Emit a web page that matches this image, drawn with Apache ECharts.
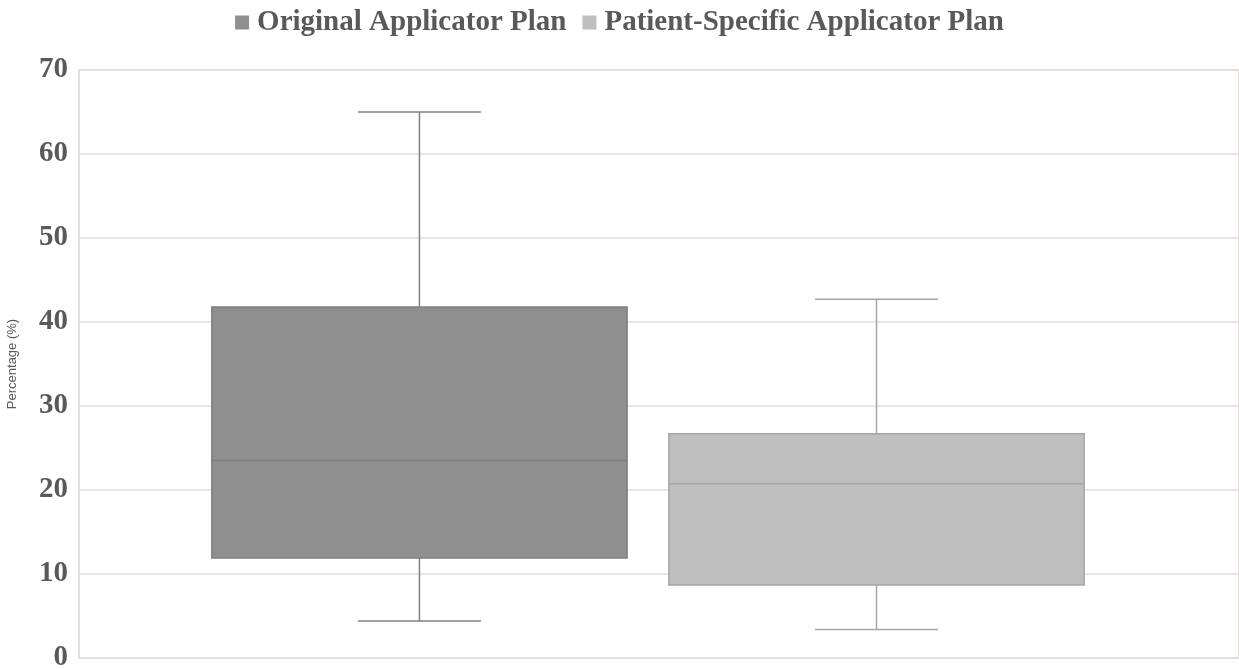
<!DOCTYPE html>
<html>
<head>
<meta charset="utf-8">
<script src="https://cdn.jsdelivr.net/npm/echarts@6/dist/echarts.min.js"></script>
<style>html,body{margin:0;padding:0;background:#fff}#c{width:1239px;height:669px}</style>
</head>
<body>
<div id="c"></div>
<script>
const categories = [''];
const seriesNames = ['Original Applicator Plan', 'Patient-Specific Applicator Plan'];
// [min, Q1, median, Q3, max]
const originalStats = [4.4, 11.9, 23.5, 41.8, 65.0];
const patientStats = [3.4, 8.7, 20.75, 26.7, 42.7];
const yTicks = [0, 10, 20, 30, 40, 50, 60, 70];

const fills = ['#8f8f8f', '#bfbfbf'];
const borders = ['#7f7f7f', '#a5a5a5'];
const offsets = [-0.2065, 0.1875];   // box center offset as fraction of band
const halfW = 0.179;                  // half box width as fraction of band
const capHalf = 0.053;                // half whisker cap width

function makeRender(idx) {
  return function (params, api) {
    const band = api.size([1, 0])[0];
    const base = api.coord([api.value(0), 0]);
    const cx = base[0] + offsets[idx] * band;
    const hw = halfW * band, ch = capHalf * band;
    const y = k => api.coord([api.value(0), api.value(k)])[1];
    const yMin = y(1), yQ1 = y(2), yMed = y(3), yQ3 = y(4), yMax = y(5);
    const lineStyle = { stroke: borders[idx], lineWidth: 1.5 };
    return {
      type: 'group',
      children: [
        { type: 'line', shape: { x1: cx, y1: yMax, x2: cx, y2: yQ3 }, style: lineStyle },
        { type: 'line', shape: { x1: cx, y1: yQ1, x2: cx, y2: yMin }, style: lineStyle },
        { type: 'line', shape: { x1: cx - ch, y1: yMax, x2: cx + ch, y2: yMax }, style: lineStyle },
        { type: 'line', shape: { x1: cx - ch, y1: yMin, x2: cx + ch, y2: yMin }, style: lineStyle },
        { type: 'rect', shape: { x: cx - hw, y: yQ3, width: 2 * hw, height: yQ1 - yQ3 },
          style: { fill: fills[idx], stroke: borders[idx], lineWidth: 1.5 } },
        { type: 'line', shape: { x1: cx - hw, y1: yMed, x2: cx + hw, y2: yMed }, style: lineStyle }
      ]
    };
  };
}

const chart = echarts.init(document.getElementById('c'), null, { renderer: 'canvas' });
chart.setOption({
  animation: false,
  backgroundColor: '#fff',
  legend: {
    top: 3,
    left: 'center',
    icon: 'rect',
    itemWidth: 14,
    itemHeight: 14,
    itemGap: 16,
    textStyle: { fontFamily: 'Liberation Serif', fontWeight: 'bold', fontSize: 29, color: '#595959', padding: [0, 0, 0, 3] },
    data: seriesNames
  },
  grid: { left: 79, right: 0, top: 70, bottom: 11, show: true, borderColor: '#e8dccf', borderWidth: 1.5,
          outerBoundsMode: 'none', containLabel: false },
  xAxis: {
    type: 'category',
    data: categories,
    axisLine: { show: false },
    axisTick: { show: false },
    axisLabel: { show: false },
    splitLine: { show: false }
  },
  yAxis: {
    type: 'value',
    min: 0, max: 70, interval: 10,
    name: 'Percentage (%)',
    nameLocation: 'middle',
    nameGap: 60,
    nameTextStyle: { fontFamily: 'Liberation Sans', fontSize: 13, color: '#595959' },
    axisLine: { show: true, lineStyle: { color: '#dcdcdc', width: 1.5 } },
    axisTick: { show: false },
    axisLabel: {
      margin: 11,
      fontFamily: 'Liberation Serif', fontWeight: 'bold', fontSize: 29, color: '#595959',
      formatter: v => yTicks.includes(v) ? String(v) : ''
    },
    splitLine: { show: true, lineStyle: { color: '#dedede', width: 1.5 } }
  },
  series: [
    { name: seriesNames[0], type: 'custom', renderItem: makeRender(0),
      itemStyle: { color: fills[0], borderColor: borders[0] },
      encode: { x: 0, y: [1, 2, 3, 4, 5] },
      data: [[0].concat(originalStats)] },
    { name: seriesNames[1], type: 'custom', renderItem: makeRender(1),
      itemStyle: { color: fills[1], borderColor: borders[1] },
      encode: { x: 0, y: [1, 2, 3, 4, 5] },
      data: [[0].concat(patientStats)] }
  ]
});
</script>
</body>
</html>
